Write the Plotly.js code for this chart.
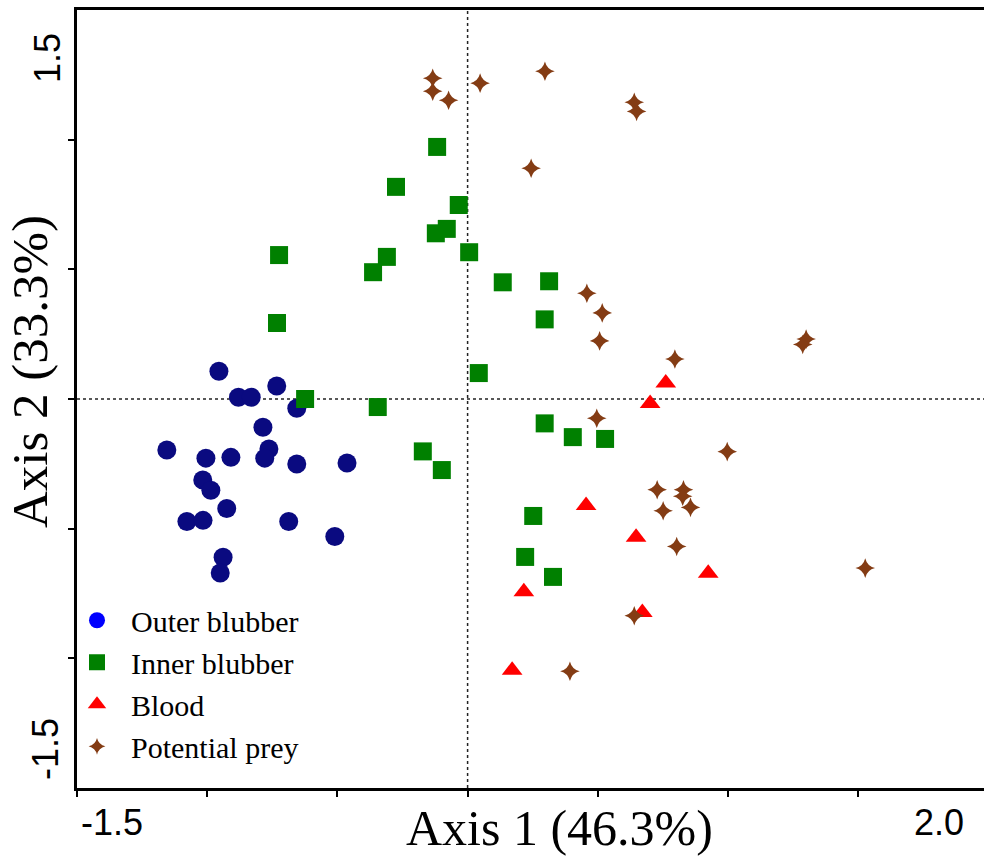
<!DOCTYPE html>
<html>
<head>
<meta charset="utf-8">
<script src="https://cdn.plot.ly/plotly-3.0.1.min.js"></script>
<style>
  html, body { margin: 0; padding: 0; background: #ffffff; }
  #chart { width: 984px; height: 858px; }
</style>
</head>
<body>
<div id="chart"></div>
<script>
// ---- Data ----
const outerX = [-0.955, -0.733, -0.880, -0.831, -0.656, -0.786, -1.155, -1.005, -0.909, -0.763, -0.779, -0.656, -0.463, -1.017, -0.986, -0.925, -1.078, -1.016, -0.687, -0.510, -0.939, -0.950];
const outerY = [0.107, 0.050, 0.007, 0.007, -0.036, -0.109, -0.197, -0.228, -0.225, -0.193, -0.228, -0.251, -0.247, -0.312, -0.352, -0.422, -0.472, -0.468, -0.472, -0.530, -0.610, -0.671];

const innerX = [-0.117, -0.275, -0.034, -0.080, -0.122, -0.310, -0.363, 0.006, 0.135, 0.313, 0.296, 0.043, -0.345, 0.296, 0.404, -0.172, -0.099, -0.724, -0.732, -0.624, 0.528, 0.252, 0.221, 0.328];
const innerY = [0.972, 0.818, 0.748, 0.656, 0.639, 0.548, 0.489, 0.566, 0.450, 0.454, 0.307, 0.100, -0.031, -0.094, -0.147, -0.202, -0.274, 0.555, 0.293, 0.000, -0.154, -0.451, -0.609, -0.686];

const bloodX = [0.761, 0.701, 0.455, 0.647, 0.216, 0.924, 0.671, 0.171];
const bloodY = [0.062, -0.017, -0.411, -0.533, -0.743, -0.672, -0.823, -1.046];

const preyX = [-0.134, -0.134, -0.073, 0.048, 0.297, 0.640, 0.649, 0.244, 0.458, 0.517, 0.507, 0.796, 1.300, 1.287, 0.496, 0.997, 0.728, 0.829, 0.826, 0.856, 0.751, 0.803, 1.527, 0.640, 0.393];
const preyY = [1.237, 1.187, 1.152, 1.218, 1.264, 1.144, 1.109, 0.890, 0.408, 0.332, 0.224, 0.154, 0.231, 0.210, -0.074, -0.203, -0.350, -0.350, -0.375, -0.418, -0.431, -0.569, -0.652, -0.836, -1.050];

const seriesNames = ["Outer blubber", "Inner blubber", "Blood", "Potential prey"];
const xTickVals = [-1.5, -1, -0.5, 0, 0.5, 1, 1.5];
const yTickVals = [-1, -0.5, 0, 0.5, 1];
const xEndLabels = ["-1.5", "2.0"];
const yEndLabels = ["1.5", "-1.5"];
const xTitle = "Axis 1 (46.3%)";
const yTitle = "Axis 2 (33.3%)";

// ---- Styles ----
const navy = "#0a0a80";
const green = "#008000";
const red = "#ff0000";
const brown = "#843c14";
const serif = "Liberation Serif, Times New Roman, serif";
const sans = "Liberation Sans, Arial, sans-serif";

const traces = [
  { x: outerX, y: outerY, type: "scatter", mode: "markers", showlegend: false, hoverinfo: "skip",
    marker: { symbol: "circle", size: 19, color: navy, line: { width: 0 } } },
  { x: innerX, y: innerY, type: "scatter", mode: "markers", showlegend: false, hoverinfo: "skip",
    marker: { symbol: "square", size: 18, color: green, line: { width: 0 } } },
  { x: bloodX, y: bloodY, type: "scatter", mode: "markers", showlegend: false, hoverinfo: "skip",
    marker: { symbol: "triangle-up", size: 18, color: red, line: { width: 0 } } },
  { x: preyX, y: preyY, type: "scatter", mode: "markers", showlegend: false, hoverinfo: "skip",
    marker: { symbol: "star-diamond", size: 14, color: brown, line: { width: 0 } } },
  // legend entries
  { x: [null], y: [null], type: "scatter", mode: "markers", name: seriesNames[0],
    marker: { symbol: "circle", size: 16, color: "#0000ff" } },
  { x: [null], y: [null], type: "scatter", mode: "markers", name: seriesNames[1],
    marker: { symbol: "square", size: 16, color: green } },
  { x: [null], y: [null], type: "scatter", mode: "markers", name: seriesNames[2],
    marker: { symbol: "triangle-up", size: 16, color: red } },
  { x: [null], y: [null], type: "scatter", mode: "markers", name: seriesNames[3],
    marker: { symbol: "star-diamond", size: 12, color: brown } }
];

const plotW = 984 - 77;
const layout = {
  width: 984,
  height: 858,
  margin: { l: 77, r: 0, t: 10, b: 70, pad: 0 },
  paper_bgcolor: "#ffffff",
  plot_bgcolor: "#ffffff",
  showlegend: true,
  legend: {
    x: -14 / plotW, y: 0.249, xanchor: "left", yanchor: "top",
    bgcolor: "rgba(0,0,0,0)", borderwidth: 0,
    font: { family: serif, size: 30, color: "#000000" },
    itemwidth: 58, tracegroupgap: 0
  },
  xaxis: {
    range: [-1.5, -1.5 + plotW / 260.4],
    showgrid: false, zeroline: false,
    showline: true, linecolor: "#000000", linewidth: 3, mirror: true,
    ticks: "outside", ticklen: 6, tickwidth: 2, tickcolor: "#000000",
    tickmode: "array", tickvals: xTickVals, showticklabels: false,
    fixedrange: true
  },
  yaxis: {
    range: [-1.5, 1.5],
    showgrid: false, zeroline: false,
    showline: true, linecolor: "#000000", linewidth: 3, mirror: false,
    ticks: "outside", ticklen: 6, tickwidth: 2, tickcolor: "#000000",
    tickmode: "array", tickvals: yTickVals, showticklabels: false,
    fixedrange: true
  },
  shapes: [
    { type: "line", xref: "x", yref: "paper", x0: 0, x1: 0, y0: 0, y1: 1,
      line: { color: "#222222", width: 1.5, dash: "dot" }, layer: "below" },
    { type: "line", xref: "paper", yref: "y", x0: 0, x1: 1, y0: 0, y1: 0,
      line: { color: "#222222", width: 1.5, dash: "dot" }, layer: "below" }
  ],
  annotations: [
    { text: xEndLabels[0], xref: "paper", yref: "paper", x: (112 - 77) / plotW, y: (788 - 822) / 778,
      xanchor: "center", yanchor: "middle", showarrow: false, font: { family: sans, size: 36, color: "#000" } },
    { text: xEndLabels[1], xref: "paper", yref: "paper", x: (939 - 77) / plotW, y: (788 - 822) / 778,
      xanchor: "center", yanchor: "middle", showarrow: false, font: { family: sans, size: 36, color: "#000" } },
    { text: yEndLabels[0], xref: "paper", yref: "paper", x: (47 - 77) / plotW, y: (788 - 58) / 778,
      xanchor: "center", yanchor: "middle", textangle: -90, showarrow: false, font: { family: sans, size: 36, color: "#000" } },
    { text: yEndLabels[1], xref: "paper", yref: "paper", x: (45 - 77) / plotW, y: (788 - 749) / 778,
      xanchor: "center", yanchor: "middle", textangle: -90, showarrow: false, font: { family: sans, size: 36, color: "#000" } },
    { text: xTitle, xref: "paper", yref: "paper", x: (559 - 77) / plotW, y: (788 - 828) / 778,
      xanchor: "center", yanchor: "middle", showarrow: false, font: { family: serif, size: 50, color: "#000" } },
    { text: yTitle, xref: "paper", yref: "paper", x: (30 - 77) / plotW, y: (788 - 372) / 778,
      xanchor: "center", yanchor: "middle", textangle: -90, showarrow: false, font: { family: serif, size: 51, color: "#000" } }
  ]
};

Plotly.newPlot("chart", traces, layout, { displayModeBar: false, staticPlot: true });
</script>
</body>
</html>
